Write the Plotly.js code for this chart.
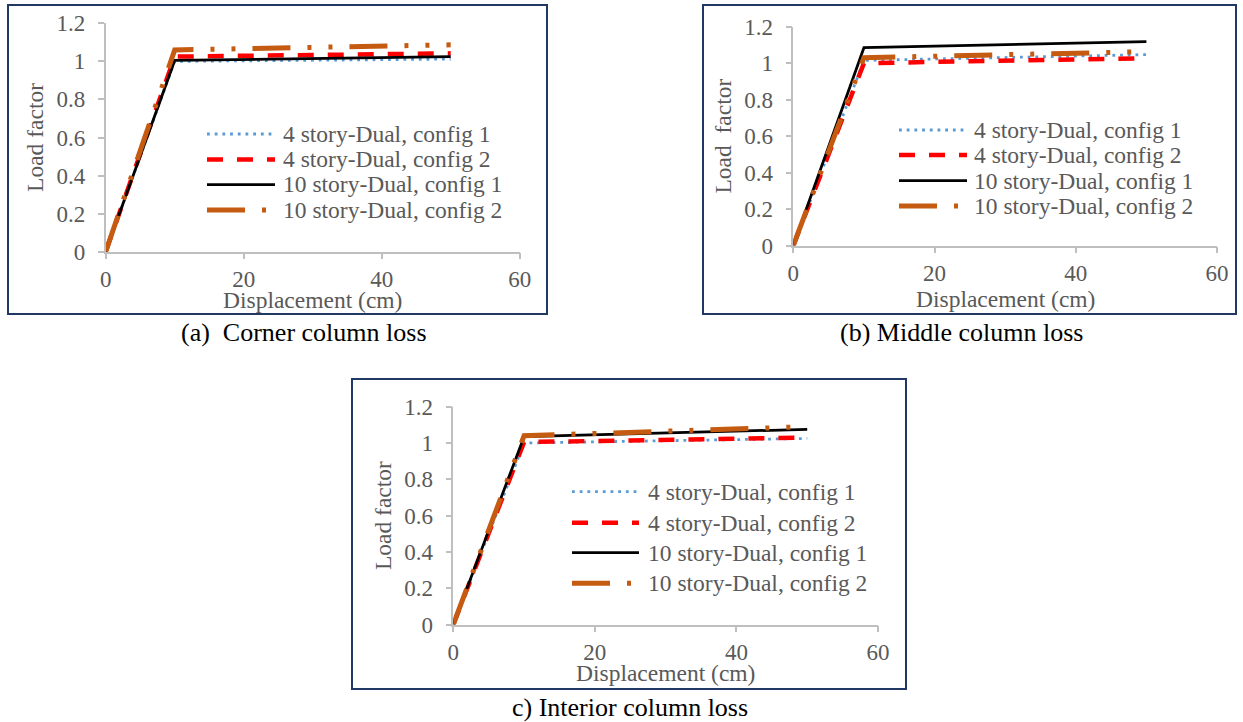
<!DOCTYPE html>
<html>
<head>
<meta charset="utf-8">
<script src="https://cdn.plot.ly/plotly-3.0.1.min.js"></script>
<style>
  html, body { margin: 0; padding: 0; background: #ffffff; }
  #chart { width: 1243px; height: 722px; }
</style>
</head>
<body>
<div id="chart"></div>
<script>
// ---------------- DATA ----------------
const seriesNames = [
  "4 story-Dual, config 1",
  "4 story-Dual, config 2",
  "10 story-Dual, config 1",
  "10 story-Dual, config 2"
];
const displacement = [0, 10, 50];           // cm

// (a) Corner column loss
const cornerDual4Config1  = [0, 1.000, 1.012];
const cornerDual4Config2  = [0, 1.025, 1.042];
const cornerDual10Config1 = [0, 1.005, 1.025];
const cornerDual10Config2 = [0, 1.060, 1.087];

// (b) Middle column loss
const middleDual4Config1  = [0, 1.015, 1.047];
const middleDual4Config2  = [0, 1.000, 1.027];
const middleDual10Config1 = [0, 1.085, 1.118];
const middleDual10Config2 = [0, 1.030, 1.063];

// (c) Interior column loss
const interiorDual4Config1  = [0, 1.000, 1.025];
const interiorDual4Config2  = [0, 1.005, 1.030];
const interiorDual10Config1 = [0, 1.035, 1.075];
const interiorDual10Config2 = [0, 1.040, 1.090];

const xTickVals = [0, 20, 40, 60];
const yTickVals = [0, 0.2, 0.4, 0.6, 0.8, 1, 1.2];
const captions = ["(a)\u00a0 Corner column loss", "(b) Middle column loss", "c) Interior column loss"];
const yTitles = ["Load factor", "Load\u00a0 factor", "Load factor"];
const xTitle = "Displacement (cm)";

// ---------------- STYLE / LAYOUT ----------------
const W = 1243, H = 722;
const FONT = "Liberation Serif, Times New Roman, serif";
const GREY = "#595959";
const AXIS = "#bfbfbf";
const BOX = "#1f3864";
const styles = [
  {color: "#5b9bd5", width: 2.8, dash: "2.8px,4.9px"},
  {color: "#ff0000", width: 4.5, dash: "16px,14px"},
  {color: "#000000", width: 2.75, dash: "solid"},
  {color: "#c55a11", width: 5,   dash: "38px,17px,4px,17px,4px,17px"}
];
const fx = p => p / W;
const fy = p => 1 - p / H;

const panels = [
  { series: [cornerDual4Config1, cornerDual4Config2, cornerDual10Config1, cornerDual10Config2],
    plot: {l: 105.7, r: 519.7, t: 23.3, b: 251.7},
    box: {l: 8, r: 547, t: 5, b: 314},
    legend: {x0: 207, x1: 275, tx: 281, rows: [134, 159.5, 184.5, 210]},
    xTitleY: 300,
    caption: {x: 304, y: 333} },
  { series: [middleDual4Config1, middleDual4Config2, middleDual10Config1, middleDual10Config2],
    plot: {l: 793.3, r: 1217, t: 26.7, b: 245.5},
    box: {l: 703, r: 1236, t: 5, b: 314},
    legend: {x0: 899, x1: 967, tx: 972, rows: [130, 155, 180.5, 206]},
    xTitleY: 299,
    caption: {x: 961, y: 333} },
  { series: [interiorDual4Config1, interiorDual4Config2, interiorDual10Config1, interiorDual10Config2],
    plot: {l: 453.3, r: 878, t: 406.7, b: 624.5},
    box: {l: 352, r: 906, t: 379, b: 689},
    legend: {x0: 572, x1: 639, tx: 646, rows: [491.7, 522.7, 552.7, 583.3]},
    xTitleY: 673,
    caption: {x: 630, y: 707} }
];

const traces = [];
const shapes = [];
const annotations = [];
const layout = {
  width: W, height: H,
  margin: {l: 0, r: 0, t: 0, b: 0},
  paper_bgcolor: "#ffffff", plot_bgcolor: "#ffffff",
  showlegend: false,
  font: {family: FONT, color: GREY, size: 23}
};

panels.forEach((p, i) => {
  const sfx = i === 0 ? "" : String(i + 1);
  const xa = "x" + sfx, ya = "y" + sfx;
  p.series.forEach((vals, k) => {
    traces.push({
      type: "scatter", mode: "lines",
      x: displacement, y: vals,
      xaxis: xa, yaxis: ya,
      name: seriesNames[k],
      line: {color: styles[k].color, width: styles[k].width, dash: styles[k].dash},
      hoverinfo: "x+y+name"
    });
  });
  const common = {
    showgrid: false, zeroline: false,
    showline: true, linecolor: AXIS, linewidth: 1.5,
    ticks: "outside", ticklen: 6, tickwidth: 1.5, tickcolor: AXIS,
    tickfont: {family: FONT, size: 23, color: GREY},
    fixedrange: true
  };
  layout["xaxis" + sfx] = Object.assign({}, common, {
    domain: [fx(p.plot.l), fx(p.plot.r)],
    anchor: ya, range: [0, 60], tickvals: xTickVals,
    ticklabelstandoff: 0
  });
  layout["yaxis" + sfx] = Object.assign({}, common, {
    domain: [fy(p.plot.b), fy(p.plot.t)],
    anchor: xa, range: [0, 1.2], tickvals: yTickVals,
    ticklabelstandoff: 8,
    title: {text: yTitles[i], font: {family: FONT, size: 23.5, color: GREY}, standoff: 6}
  });
  // x-axis title, centred under the plot area
  annotations.push({xref: "paper", yref: "paper",
    x: fx((p.plot.l + p.plot.r) / 2), y: fy(p.xTitleY),
    xanchor: "center", yanchor: "middle", showarrow: false, text: xTitle,
    font: {family: FONT, size: 23.5, color: GREY}});
  // frame around the panel
  shapes.push({type: "rect", xref: "paper", yref: "paper",
    x0: fx(p.box.l), x1: fx(p.box.r), y0: fy(p.box.b), y1: fy(p.box.t),
    line: {color: BOX, width: 2}, fillcolor: "rgba(0,0,0,0)", layer: "below"});
  // legend samples and labels
  seriesNames.forEach((nm, k) => {
    const yy = fy(p.legend.rows[k]);
    shapes.push({type: "line", xref: "paper", yref: "paper",
      x0: fx(p.legend.x0), x1: fx(p.legend.x1), y0: yy, y1: yy,
      line: {color: styles[k].color, width: styles[k].width, dash: styles[k].dash}});
    annotations.push({xref: "paper", yref: "paper", x: fx(p.legend.tx), y: yy,
      xanchor: "left", yanchor: "middle", showarrow: false, text: nm,
      font: {family: FONT, size: 23.5, color: GREY}});
  });
  // caption
  annotations.push({xref: "paper", yref: "paper", x: fx(p.caption.x), y: fy(p.caption.y),
    xanchor: "center", yanchor: "middle", showarrow: false, text: captions[i],
    font: {family: FONT, size: 26, color: "#000000"}});
});
layout.shapes = shapes;
layout.annotations = annotations;

Plotly.newPlot("chart", traces, layout, {displayModeBar: false, staticPlot: false});
</script>
</body>
</html>
